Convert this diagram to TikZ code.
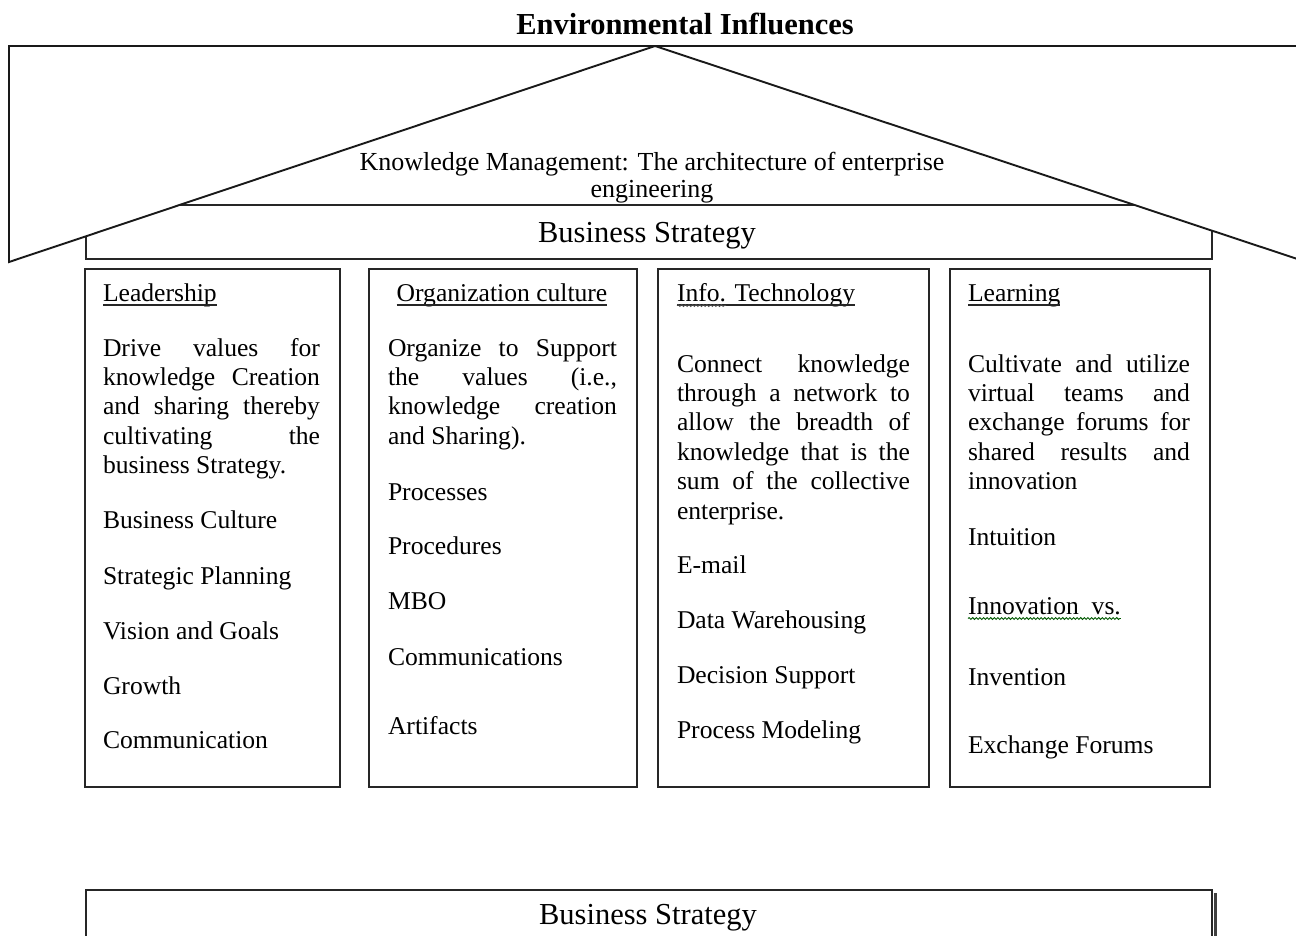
\documentclass[tikz,border=0pt]{standalone}
\usepackage{fontspec}
\setmainfont{Liberation Serif}
\usetikzlibrary{decorations.pathmorphing}

% justified line of a fixed width
\newcommand\jline[2]{\makebox[#1][s]{#2}}

\begin{document}
\begin{tikzpicture}[x=1pt,y=-1pt,
  frame/.style={draw=black!90,line width=1.9pt},
  boxline/.style={draw=black!85,line width=1.7pt},
  body/.style={anchor=base west,inner sep=0pt,outer sep=0pt,
               font=\fontsize{25.6}{29.4}\selectfont},
  strat/.style={anchor=base,inner sep=0pt,outer sep=0pt,
               font=\fontsize{30.5}{34}\selectfont},
  uline/.style={draw=black!85,line width=1.3pt},
  squiggle/.style={decorate,decoration={snake,amplitude=0.9pt,segment length=3.6pt},line width=0.9pt}
]
\useasboundingbox (0,0) rectangle (1296,935);
\begin{scope}
\clip (0,0) rectangle (1296,935);

% title
\node[anchor=base,inner sep=0pt,font=\bfseries\fontsize{30.5}{34}\selectfont] (title) at (685,34) {Environmental Influences};

% business strategy band under the roof
\draw[boxline] (86,205) rectangle (1212,259);

% roof: white wedges between the outer frame and the gable
\fill[white] (9,46) -- (9,262) -- (655,46) -- cycle;
\fill[white] (655,46) -- (1400,293) -- (1400,46) -- cycle;
\draw[frame] (1400,46) -- (9,46) -- (9,262) -- (655,46) -- (1400,293);

\node[anchor=base,inner sep=0pt,font=\fontsize{26}{28}\selectfont] (km1) at (652,170) {Knowledge Management: The architecture of enterprise};
\node[anchor=base,inner sep=0pt,font=\fontsize{26}{28}\selectfont] (km2) at (652,197) {engineering};
\node[strat] (bs) at (647,242) {Business Strategy};

% four pillars
\draw[boxline] (85,269) rectangle (340,787);
\draw[boxline] (369,269) rectangle (637,787);
\draw[boxline] (658,269) rectangle (929,787);
\draw[boxline] (950,269) rectangle (1210,787);

% pillar 1: Leadership
\node[body] (h1) at (103,301) {Leadership};
\draw[uline] ([yshift=-4pt]h1.base west) -- ([yshift=-4pt]h1.base east);
\node[body] (a1) at (103,356) {\jline{217pt}{Drive values for}};
\node[body] (a2) at (103,385.4) {\jline{217pt}{knowledge Creation}};
\node[body] (a3) at (103,414.8) {\jline{217pt}{and sharing thereby}};
\node[body] (a4) at (103,444.2) {\jline{217pt}{cultivating the}};
\node[body] (a5) at (103,473.6) {business Strategy.};
\node[body] (a6) at (103,528) {Business Culture};
\node[body] (a7) at (103,584) {Strategic Planning};
\node[body] (a8) at (103,639) {Vision and Goals};
\node[body] (a9) at (103,694) {Growth};
\node[body] (a10) at (103,748) {Communication};

% pillar 2: Organization culture
\node[body,anchor=base] (h2) at (502,301) {Organization culture};
\draw[uline] ([yshift=-4pt]h2.base west) -- ([yshift=-4pt]h2.base east);
\node[body] (b1) at (388,356) {\jline{229pt}{Organize to Support}};
\node[body] (b2) at (388,385.4) {\jline{229pt}{the values (i.e.,}};
\node[body] (b3) at (388,414.8) {\jline{229pt}{knowledge creation}};
\node[body] (b4) at (388,444.2) {and Sharing).};
\node[body] (b5) at (388,500) {Processes};
\node[body] (b6) at (388,554) {Procedures};
\node[body] (b7) at (388,609) {MBO};
\node[body] (b8) at (388,665) {Communications};
\node[body] (b9) at (388,734) {Artifacts};

% pillar 3: Info. Technology
\node[body] (h3) at (677,301) {Info. Technology};
\draw[uline] ([yshift=-4pt]h3.base west) -- ([yshift=-4pt]h3.base east);
\draw[squiggle,black!70] ([yshift=-4.5pt]h3.base west) -- ++(49,0);
\node[body] (c1) at (677,372) {\jline{233pt}{Connect knowledge}};
\node[body] (c2) at (677,401.4) {\jline{233pt}{through a network to}};
\node[body] (c3) at (677,430.8) {\jline{233pt}{allow the breadth of}};
\node[body] (c4) at (677,460.2) {\jline{233pt}{knowledge that is the}};
\node[body] (c5) at (677,489.6) {\jline{233pt}{sum of the collective}};
\node[body] (c6) at (677,519) {enterprise.};
\node[body] (c7) at (677,573) {E-mail};
\node[body] (c8) at (677,628) {Data Warehousing};
\node[body] (c9) at (677,683) {Decision Support};
\node[body] (c10) at (677,738) {Process Modeling};

% pillar 4: Learning
\node[body] (h4) at (968,301) {Learning};
\draw[uline] ([yshift=-4pt]h4.base west) -- ([yshift=-4pt]h4.base east);
\node[body] (d1) at (968,372) {\jline{222pt}{Cultivate and utilize}};
\node[body] (d2) at (968,401.4) {\jline{222pt}{virtual teams and}};
\node[body] (d3) at (968,430.8) {\jline{222pt}{exchange forums for}};
\node[body] (d4) at (968,460.2) {\jline{222pt}{shared results and}};
\node[body] (d5) at (968,489.6) {innovation};
\node[body] (d6) at (968,545) {Intuition};
\node[body] (d7) at (968,614) {Innovation\ \ vs.};
\draw[squiggle,green!35!black] ([yshift=-4.5pt]d7.base west) -- ([yshift=-4.5pt]d7.base east);
\node[body] (d8) at (968,685) {Invention};
\node[body] (d9) at (968,753) {Exchange Forums};

% lower business strategy box
\draw[boxline] (86,940) -- (86,890) -- (1212,890) -- (1212,940);
\draw[black!75,line width=3pt] (1215,893) -- (1215,940);
\node[strat] (bs2) at (648,924) {Business Strategy};
\end{scope}
\end{tikzpicture}
\end{document}
